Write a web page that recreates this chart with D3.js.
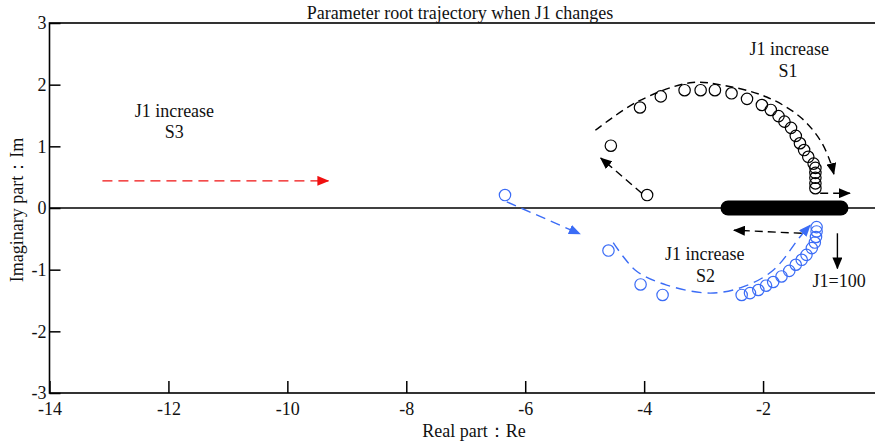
<!DOCTYPE html>
<html>
<head>
<meta charset="utf-8">
<script src="https://cdn.jsdelivr.net/npm/d3@7"></script>
<style>
  body { margin: 0; background: #fff; }
  text { font-family: "Times New Roman", "Liberation Serif", serif; fill: #111; }
</style>
</head>
<body>
<div id="chart"></div>
<script>
// axis ticks
const xTicks = [-14, -12, -10, -8, -6, -4, -2, 0];
const yTicks = [-3, -2, -1, 0, 1, 2, 3];

// roots S1 (black) as [Re, Im]
const s1Roots = [
    [-3.95, 0.21], [-4.56, 1.01], [-4.07, 1.63], [-3.72, 1.81], [-3.32, 1.91],
    [-3.05, 1.91], [-2.81, 1.91], [-2.53, 1.86], [-2.27, 1.77], [-2.02, 1.67],
    [-1.87, 1.59], [-1.74, 1.49], [-1.64, 1.40], [-1.53, 1.30], [-1.45, 1.17],
    [-1.38, 1.05], [-1.31, 0.94], [-1.24, 0.83], [-1.15, 0.72], [-1.12, 0.65],
    [-1.12, 0.57], [-1.12, 0.49], [-1.12, 0.40], [-1.12, 0.32]
];

// roots S2 (blue)
const s2Roots = [
    [-6.34, 0.21], [-4.60, -0.69], [-4.06, -1.24], [-3.69, -1.41], [-2.36, -1.41],
    [-2.22, -1.38], [-2.08, -1.33], [-1.95, -1.26], [-1.83, -1.20], [-1.69, -1.11],
    [-1.56, -1.02], [-1.45, -0.92], [-1.35, -0.84], [-1.27, -0.76], [-1.18, -0.65],
    [-1.13, -0.56], [-1.11, -0.47], [-1.10, -0.38], [-1.10, -0.31]
];

// real roots piled on the axis (J1 -> 100)
const realRootSpan = [-2.59, -0.69];

// trend arrows
const s1Trend = [[-4.82, 1.26], [-4.12, 1.72], [-3.23, 2.03], [-2.67, 1.99], [-1.94, 1.80],
                 [-1.38, 1.48], [-1.04, 1.10], [-0.87, 0.75], [-0.81, 0.55]];
const s1Start = [[-4.04, 0.24], [-4.73, 0.81]];
const s1End = [[-1.04, 0.24], [-0.54, 0.24]];
const s2Trend = [[-4.52, -0.56], [-4.35, -0.79], [-4.12, -1.03], [-3.62, -1.25], [-2.89, -1.38],
                 [-2.34, -1.28], [-1.83, -1.01], [-1.38, -0.47], [-1.21, -0.28]];
const s2Start = [[-6.31, 0.10], [-5.08, -0.42]];
const s2End = [[-1.35, -0.41], [-2.49, -0.36]];
const j1Arrow = [[-0.75, -0.41], [-0.75, -0.98]];
const s3Trend = [[-13.11, 0.44], [-9.31, 0.44]];

// labels [text, Re, Im]
const notes = [
    ["J1 increase", -11.90, 1.48], ["S3", -11.90, 1.13],
    ["J1 increase", -1.56, 2.48], ["S1", -1.58, 2.13],
    ["J1 increase", -2.98, -0.84], ["S2", -2.97, -1.20],
    ["J1=100", -0.72, -1.28]
];

const width = 875, height = 446;
const blue = "#3b6cf6", red = "#f01010";

const svg = d3.select("#chart").append("svg")
    .attr("width", width)
    .attr("height", height);

const x = d3.scaleLinear().domain([-14, 0]).range([49.5, 882]);
const y = d3.scaleLinear().domain([-3, 3]).range([393, 23]);

// arrow heads
const defs = svg.append("defs");
[["black", "#000"], ["blue", blue], ["red", red]].forEach(([id, c]) => {
    defs.append("marker")
        .attr("id", "head-" + id)
        .attr("markerUnits", "userSpaceOnUse")
        .attr("markerWidth", 12).attr("markerHeight", 10)
        .attr("refX", 11).attr("refY", 5)
        .attr("orient", "auto")
        .append("path")
        .attr("d", "M0,0 L12,5 L0,10 Z")
        .attr("fill", c);
});

// frame
svg.append("rect")
    .attr("x", x(-14)).attr("y", y(3))
    .attr("width", x(0) - x(-14)).attr("height", y(-3) - y(3))
    .attr("fill", "none").attr("stroke", "#000").attr("stroke-width", 1.6);

// axes with inward ticks, plain hyphen minus like the original
const fmt = d => String(d);
const xAxis = svg.append("g")
    .attr("transform", `translate(0,${y(-3)})`)
    .call(d3.axisBottom(x).tickValues(xTicks).tickSize(-12).tickSizeOuter(0).tickPadding(9).tickFormat(fmt));
const yAxis = svg.append("g")
    .attr("transform", `translate(${x(-14)},0)`)
    .call(d3.axisLeft(y).tickValues(yTicks).tickSize(-11).tickSizeOuter(0).tickPadding(3).tickFormat(fmt));
[xAxis, yAxis].forEach(a => {
    a.select(".domain").remove();
    a.selectAll(".tick line").attr("stroke", "#000").attr("stroke-width", 1.5);
    a.selectAll("text").attr("font-size", 18)
        .attr("font-family", "'Times New Roman', 'Liberation Serif', serif").attr("fill", "#111");
});

// zero line
svg.append("line")
    .attr("x1", x(-14)).attr("x2", x(0))
    .attr("y1", y(0)).attr("y2", y(0))
    .attr("stroke", "#000").attr("stroke-width", 1.5);

// real roots bar
svg.append("line")
    .attr("x1", x(realRootSpan[0])).attr("x2", x(realRootSpan[1]))
    .attr("y1", y(0)).attr("y2", y(0))
    .attr("stroke", "#000").attr("stroke-width", 15).attr("stroke-linecap", "round");

const straight = d3.line().x(d => x(d[0])).y(d => y(d[1]));
const smooth = d3.line().x(d => x(d[0])).y(d => y(d[1])).curve(d3.curveCatmullRom);

function arrow(pts, gen, color, head, dash) {
    svg.append("path")
        .attr("d", gen(pts))
        .attr("fill", "none")
        .attr("stroke", color)
        .attr("stroke-width", 1.4)
        .attr("stroke-dasharray", dash)
        .attr("marker-end", `url(#head-${head})`);
}

arrow(s3Trend, straight, red, "red", "10,6");
arrow(s1Trend, smooth, "#000", "black", "8,5");
arrow(s1Start, straight, "#000", "black", "8,5");
arrow(s1End, straight, "#000", "black", "8,5");
arrow(s2Trend, smooth, blue, "blue", "10,6");
arrow(s2Start, straight, blue, "blue", "10,6");
arrow(s2End, straight, "#000", "black", "8,5");
arrow(j1Arrow, straight, "#000", "black", null);

// root markers
svg.append("g").selectAll("circle")
    .data(s1Roots).join("circle")
    .attr("cx", d => x(d[0])).attr("cy", d => y(d[1])).attr("r", 5.7)
    .attr("fill", "none").attr("stroke", "#000").attr("stroke-width", 1.2);

svg.append("g").selectAll("circle")
    .data(s2Roots).join("circle")
    .attr("cx", d => x(d[0])).attr("cy", d => y(d[1])).attr("r", 5.7)
    .attr("fill", "none").attr("stroke", blue).attr("stroke-width", 1.2);

// annotations
svg.append("g").selectAll("text")
    .data(notes).join("text")
    .attr("x", d => x(d[1])).attr("y", d => y(d[2]))
    .attr("text-anchor", "middle")
    .attr("font-size", 18)
    .text(d => d[0]);

// titles
svg.append("text")
    .attr("x", 460).attr("y", 19)
    .attr("text-anchor", "middle").attr("font-size", 18)
    .text("Parameter root trajectory when J1 changes");

svg.append("text")
    .attr("x", 474).attr("y", 437)
    .attr("text-anchor", "middle").attr("font-size", 18)
    .text("Real part：Re");

svg.append("text")
    .attr("transform", "translate(23,210) rotate(-90)")
    .attr("text-anchor", "middle").attr("font-size", 18)
    .text("Imaginary part：Im");
</script>
</body>
</html>
